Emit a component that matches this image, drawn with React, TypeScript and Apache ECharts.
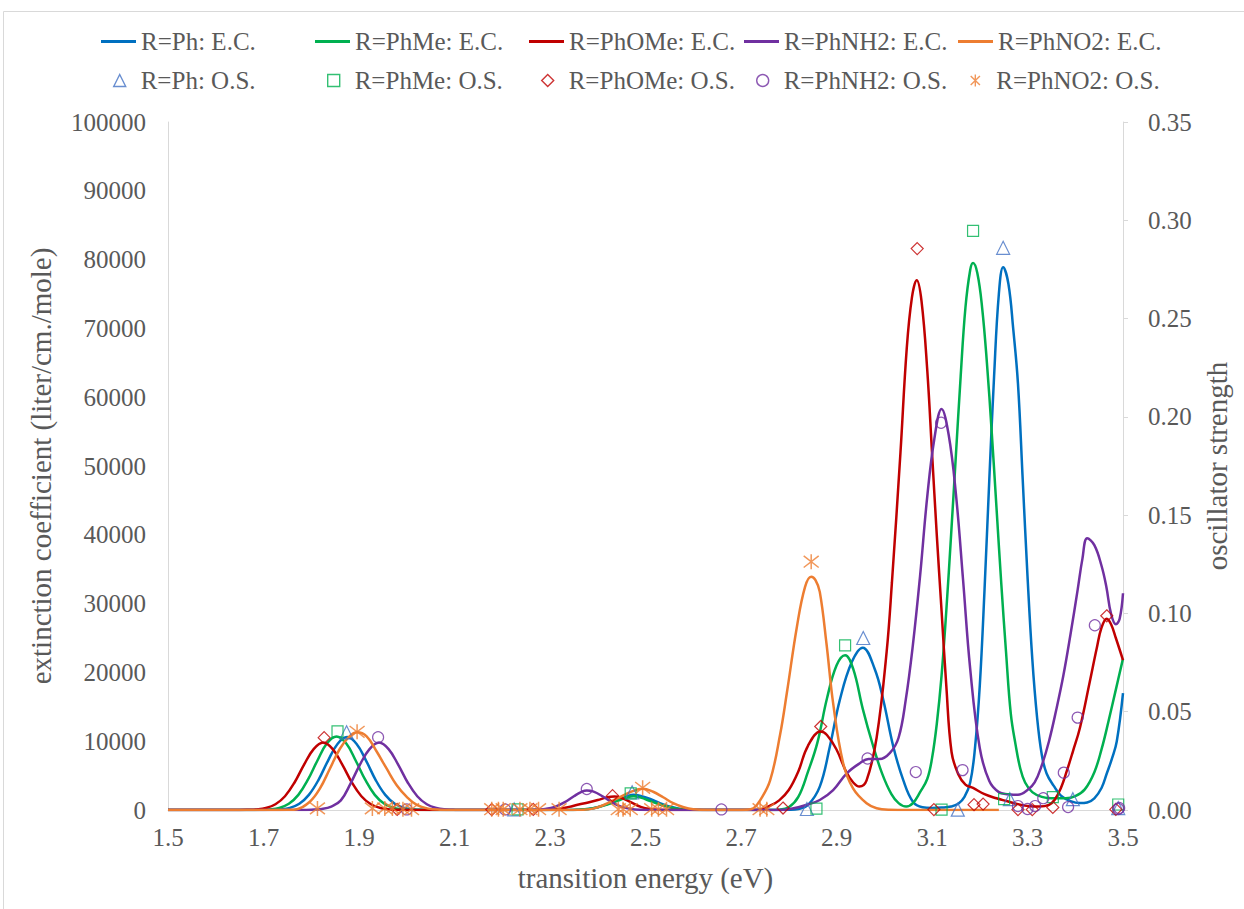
import React, { useEffect, useRef } from "react";
import * as echarts from "echarts";

const FONT = "'Liberation Serif', 'Times New Roman', serif";
const TEXT = "#595959";
const AXIS = "#D9D9D9";

const lineNames = ["R=Ph: E.C.", "R=PhMe: E.C.", "R=PhOMe: E.C.", "R=PhNH2: E.C.", "R=PhNO2: E.C."];
const osNames = ["R=Ph: O.S.", "R=PhMe: O.S.", "R=PhOMe: O.S.", "R=PhNH2: O.S.", "R=PhNO2: O.S."];
const lineColors = ["#0070C0", "#00B050", "#C00000", "#7030A0", "#ED7D31"];
const markerColors = ["#4472C4", "#00B050", "#C00000", "#7030A0", "#ED7D31"];

// extinction coefficient spectra [eV, liter/cm/mole]
const ecPh: number[][] = [
  [1.5, 0], [1.7, 0], [1.715, 20], [1.735, 80], [1.755, 300], [1.775, 900], [1.795, 2200], [1.815, 4350], [1.835, 7150], [1.855, 9600], [1.875, 10600], [1.895, 9600], [1.915, 7150], [1.935, 4350], [1.955, 2200], [1.975, 900], [1.995, 300], [2.015, 80], [2.035, 20], [2.06, 0],
  [2.34, 0], [2.36, 50], [2.38, 150], [2.4, 400], [2.42, 850], [2.44, 1400], [2.46, 1950], [2.475, 2200], [2.49, 2050], [2.51, 1600], [2.53, 1000], [2.55, 500], [2.57, 200], [2.59, 60], [2.62, 0],
  [2.78, 0], [2.8, 20], [2.82, 150], [2.84, 700], [2.865, 3400], [2.886, 9200], [2.907, 16000], [2.932, 21500], [2.955, 23600], [2.98, 20500], [2.998, 16000], [3.019, 9200], [3.04, 4300], [3.06, 1200], [3.08, 400], [3.1, 300], [3.12, 350], [3.14, 500], [3.155, 900], [3.168, 1900],
  [3.18, 4000], [3.19, 9000], [3.2, 18000], [3.21, 32000], [3.22, 48000], [3.23, 63000], [3.24, 75000], [3.249, 78900], [3.26, 76500], [3.27, 70000], [3.28, 62000], [3.29, 48000], [3.3, 34000], [3.31, 22000], [3.32, 13500], [3.33, 8000], [3.34, 5300], [3.355, 3500], [3.37, 2100], [3.39, 1300], [3.41, 1000], [3.425, 1100], [3.44, 1700], [3.455, 3200], [3.466, 5300], [3.477, 7500], [3.487, 10000], [3.5, 17000],
];
const ecPhMe: number[][] = [
  [1.5, 0], [1.68, 0], [1.693, 20], [1.713, 85], [1.733, 300], [1.753, 900], [1.773, 2200], [1.793, 4400], [1.813, 7200], [1.833, 9700], [1.853, 10700], [1.873, 9700], [1.893, 7200], [1.913, 4400], [1.933, 2200], [1.953, 900], [1.973, 300], [1.993, 85], [2.013, 20], [2.04, 0],
  [2.34, 0], [2.36, 50], [2.38, 150], [2.4, 400], [2.42, 800], [2.44, 1300], [2.46, 1800], [2.475, 2000], [2.49, 1800], [2.51, 1300], [2.53, 800], [2.55, 400], [2.57, 150], [2.59, 50], [2.62, 0],
  [2.76, 0], [2.78, 50], [2.8, 400], [2.82, 1900], [2.84, 5500], [2.86, 9800], [2.88, 16200], [2.9, 21000], [2.918, 22500], [2.935, 20500], [2.955, 14700], [2.975, 9700], [2.995, 5400], [3.015, 2300], [3.03, 1000], [3.046, 500], [3.06, 1000], [3.075, 2600],
  [3.09, 4500], [3.1, 7500], [3.11, 12500], [3.12, 19500], [3.13, 29000], [3.14, 40000], [3.15, 51500], [3.16, 63000], [3.17, 73000], [3.18, 78500], [3.186, 79500], [3.195, 78000], [3.205, 73000], [3.215, 65000], [3.225, 55000], [3.235, 44000], [3.245, 33000], [3.255, 23000], [3.265, 14000], [3.275, 9500], [3.285, 6000], [3.295, 4000],
  [3.31, 2600], [3.33, 1900], [3.35, 1700], [3.38, 1700], [3.4, 2000], [3.42, 3000], [3.44, 5500], [3.455, 8800], [3.47, 13000], [3.485, 17500], [3.5, 22000],
];
const ecPhOMe: number[][] = [
  [1.5, 0], [1.65, 0], [1.665, 20], [1.685, 80], [1.705, 280], [1.725, 830], [1.745, 2000], [1.765, 4000], [1.785, 6600], [1.805, 8850], [1.825, 9800], [1.845, 8850], [1.865, 6600], [1.885, 4000], [1.905, 2000], [1.925, 830], [1.945, 280], [1.965, 80], [1.985, 20], [2.01, 0],
  [2.28, 0], [2.3, 30], [2.32, 150], [2.34, 450], [2.36, 800], [2.38, 1100], [2.4, 1450], [2.42, 1850], [2.435, 1950], [2.45, 1750], [2.47, 1100], [2.49, 450], [2.51, 130], [2.53, 30], [2.56, 0],
  [2.72, 0], [2.74, 50], [2.76, 600], [2.78, 1400], [2.8, 2900], [2.82, 5600], [2.84, 9300], [2.867, 11400], [2.88, 10900], [2.9, 8800], [2.92, 5600], [2.935, 4000], [2.948, 3400], [2.963, 4300], [2.984, 10500], [3.005, 23000], [3.016, 33000], [3.034, 52000], [3.047, 67000], [3.058, 74500], [3.068, 77000], [3.078, 74000], [3.09, 64000], [3.1, 52000], [3.11, 40000], [3.12, 29000], [3.13, 18000], [3.141, 8400], [3.155, 5200], [3.17, 3700], [3.186, 3200], [3.21, 2300], [3.235, 1700], [3.256, 1300], [3.28, 850], [3.305, 550], [3.325, 500], [3.345, 750], [3.357, 1500], [3.37, 3200], [3.382, 5600], [3.395, 8500], [3.41, 12000], [3.43, 18500], [3.445, 23500], [3.455, 26500], [3.466, 27800], [3.475, 27000], [3.485, 25000], [3.5, 21800],
];
const ecPhNH2: number[][] = [
  [1.5, 0], [1.78, 0], [1.8, 40], [1.822, 150], [1.842, 500], [1.862, 1400], [1.882, 3800], [1.902, 6600], [1.922, 8850], [1.942, 9800], [1.962, 8850], [1.982, 6600], [2.002, 4000], [2.022, 2000], [2.042, 830], [2.062, 280], [2.082, 77], [2.102, 18], [2.13, 0],
  [2.25, 0], [2.27, 30], [2.29, 150], [2.31, 450], [2.33, 1100], [2.35, 2000], [2.365, 2600], [2.377, 2850], [2.39, 2700], [2.41, 2000], [2.43, 1100], [2.45, 450], [2.47, 150], [2.49, 40], [2.52, 0],
  [2.78, 0], [2.81, 250], [2.84, 800], [2.865, 1450], [2.893, 2900], [2.921, 5300], [2.949, 6800], [2.967, 7400], [2.99, 7400], [3.012, 8300], [3.03, 10500], [3.045, 16000], [3.06, 24000], [3.075, 34000], [3.09, 45500], [3.105, 54000], [3.12, 58300], [3.135, 54500], [3.15, 46000], [3.165, 33500], [3.18, 20500], [3.2, 9000], [3.22, 4200], [3.24, 2600], [3.26, 2300], [3.28, 2200], [3.3, 2900], [3.315, 4000], [3.33, 6500], [3.345, 10000], [3.36, 14500], [3.375, 19500], [3.39, 25500], [3.405, 32000], [3.415, 36500], [3.425, 39500], [3.44, 38500], [3.455, 35500], [3.465, 32500], [3.475, 28500], [3.485, 27000], [3.493, 27800], [3.5, 31500],
];
const ecPhNO2: number[][] = [
  [1.5, 0], [1.73, 0], [1.75, 20], [1.77, 120], [1.797, 1200], [1.818, 3100], [1.839, 6000], [1.86, 8900], [1.88, 10700], [1.896, 11300], [1.916, 10700], [1.937, 8500], [1.958, 6000], [1.979, 3600], [2.0, 1900], [2.021, 750], [2.045, 200], [2.07, 40], [2.1, 0],
  [2.35, 0], [2.37, 20], [2.39, 200], [2.41, 650], [2.44, 1650], [2.468, 2600], [2.494, 3100], [2.516, 2650], [2.537, 1850], [2.558, 1000], [2.58, 400], [2.6, 100], [2.63, 0],
  [2.69, 0], [2.71, 30], [2.726, 250], [2.74, 1400], [2.761, 4300], [2.782, 11000], [2.796, 17000], [2.817, 26600], [2.834, 32400], [2.847, 33900], [2.856, 33400], [2.865, 31700], [2.879, 24200], [2.893, 15500], [2.914, 6800], [2.935, 3100], [2.963, 970], [2.984, 250], [3.01, 30], [3.05, 0], [3.24, 0],
];

// oscillator strengths [eV, f]
const osPh: number[][] = [[1.874, 0.0395], [2.225, 0.0003], [2.472, 0.009], [2.838, 0.0005], [2.956, 0.0875], [3.154, 0.0002], [3.249, 0.286], [3.263, 0.0055], [3.395, 0.0055], [3.49, 0.001]];
const osPhMe: number[][] = [[1.855, 0.04], [2.232, 0.0003], [2.469, 0.0085], [2.858, 0.0007], [2.918, 0.0837], [3.12, 0.0002], [3.186, 0.2946], [3.251, 0.0055], [3.353, 0.0066], [3.49, 0.0028]];
const osPhOMe: number[][] = [[1.827, 0.0368], [1.98, 0.0003], [2.178, 0.0002], [2.265, 0.0003], [2.431, 0.0073], [2.788, 0.001], [2.867, 0.0425], [3.069, 0.2856], [3.104, 0.0002], [3.188, 0.0027], [3.207, 0.003], [3.28, 0.0002], [3.31, 0.0002], [3.353, 0.0013], [3.466, 0.0988], [3.485, 0.0003]];
const osPhNH2: number[][] = [[1.94, 0.037], [2.0, 0.0003], [2.206, 0.0003], [2.377, 0.0107], [2.659, 0.0003], [2.965, 0.0262], [3.066, 0.0193], [3.119, 0.197], [3.164, 0.0203], [3.28, 0.002], [3.3, 0.0005], [3.316, 0.002], [3.333, 0.006], [3.376, 0.019], [3.385, 0.0015], [3.405, 0.047], [3.441, 0.094], [3.49, 0.0005], [3.492, 0.001]];
const osPhNO2: number[][] = [[1.813, 0.0008], [1.896, 0.0398], [1.928, 0.0008], [1.954, 0.0008], [1.97, 0.0008], [1.992, 0.0004], [2.01, 0.0004], [2.178, 0.0004], [2.192, 0.0004], [2.202, 0.0004], [2.237, 0.0004], [2.258, 0.0004], [2.276, 0.0004], [2.319, 0.0004], [2.443, 0.0004], [2.453, 0.0004], [2.468, 0.0004], [2.494, 0.0113], [2.513, 0.0004], [2.527, 0.0004], [2.544, 0.0004], [2.74, 0.0004], [2.754, 0.0004], [2.847, 0.1263]];

const ecData = [ecPh, ecPhMe, ecPhOMe, ecPhNH2, ecPhNO2];
const osData = [osPh, osPhMe, osPhOMe, osPhNH2, osPhNO2];

const ASTERISK = "path://M0,0L10,10M10,0L0,10M5,-1.5L5,11.5";
const osSymbols = ["triangle", "rect", "diamond", "circle", ASTERISK];
const osSizes = [13, 11, 12, 11, 15];

const legendLefts = [101, 315, 529, 744, 958];

export default function App() {
  const ref = useRef<HTMLDivElement>(null);
  useEffect(() => {
    const chart = echarts.init(ref.current!, null, { renderer: "svg" });
    const textStyle = { color: TEXT, fontFamily: FONT, fontSize: 25 };
    const legends: any[] = [];
    lineNames.forEach((n, i) => {
      legends.push({
        data: [{ name: n, icon: "rect", itemStyle: { color: lineColors[i] } }],
        left: legendLefts[i], top: 29, itemWidth: 35, itemHeight: 3, textStyle, padding: 0,
      });
    });
    osNames.forEach((n, i) => {
      legends.push({
        data: [{ name: n, icon: osSymbols[i], itemStyle: { color: "rgba(0,0,0,0)", borderColor: markerColors[i], borderWidth: 1.4 } }],
        left: legendLefts[i] + 12, top: 68, itemWidth: 12, itemHeight: 12,
        textStyle: { ...textStyle, padding: [0, 0, 0, 10] }, padding: 0,
      });
    });
    const series: any[] = [];
    ecData.forEach((d, i) => {
      series.push({
        name: lineNames[i], type: "line", data: d, yAxisIndex: 0, smooth: 0.4,
        showSymbol: false, symbol: "none", color: lineColors[i],
        lineStyle: { color: lineColors[i], width: 2.5 }, z: 2,
      });
    });
    osData.forEach((d, i) => {
      series.push({
        name: osNames[i], type: "scatter", data: d, yAxisIndex: 1,
        symbol: osSymbols[i], symbolSize: osSizes[i], color: markerColors[i],
        itemStyle: { color: "rgba(0,0,0,0)", borderColor: markerColors[i], borderWidth: i === 4 ? 1.5 : 1.2 }, z: 3,
      });
    });
    chart.setOption({
      animation: false,
      backgroundColor: "#ffffff",
      graphic: [{
        type: "rect", shape: { x: 3.5, y: 11.5, width: 1300, height: 950 },
        style: { fill: "none", stroke: AXIS, lineWidth: 1 }, silent: true, z: -1,
      }],
      legend: legends,
      grid: { left: 168, right: 121, top: 122, bottom: 99, containLabel: false },
      xAxis: {
        type: "value", min: 1.5, max: 3.5, interval: 0.2,
        axisLine: { show: true, onZero: false, lineStyle: { color: AXIS, width: 1 } },
        axisTick: { show: false }, splitLine: { show: false },
        axisLabel: { color: TEXT, fontFamily: FONT, fontSize: 25, margin: 15, formatter: (v: number) => v.toFixed(1) },
        name: "transition energy (eV)", nameLocation: "middle", nameGap: 53,
        nameTextStyle: { color: TEXT, fontFamily: FONT, fontSize: 29 },
      },
      yAxis: [
        {
          type: "value", min: 0, max: 100000, interval: 10000, position: "left",
          axisLine: { show: true, lineStyle: { color: AXIS, width: 1 } },
          axisTick: { show: false }, splitLine: { show: false },
          axisLabel: { color: TEXT, fontFamily: FONT, fontSize: 25, margin: 22, formatter: (v: number) => String(v) },
          name: "extinction coefficient (liter/cm./mole)", nameLocation: "middle", nameGap: 113, nameRotate: 90,
          nameTextStyle: { color: TEXT, fontFamily: FONT, fontSize: 29 },
        },
        {
          type: "value", min: 0, max: 0.35, interval: 0.05, position: "right",
          axisLine: { show: true, lineStyle: { color: AXIS, width: 1 } },
          axisTick: { show: true, inside: false, length: 5, lineStyle: { color: AXIS } }, splitLine: { show: false },
          axisLabel: { color: TEXT, fontFamily: FONT, fontSize: 25, margin: 25, formatter: (v: number) => v.toFixed(2) },
          name: "oscillator strength", nameLocation: "middle", nameGap: 79, nameRotate: 90,
          nameTextStyle: { color: TEXT, fontFamily: FONT, fontSize: 29 },
        },
      ],
      series,
    });
    return () => chart.dispose();
  }, []);
  return <div ref={ref} style={{ position: "fixed", left: 0, top: 0, width: 1244, height: 909, background: "#fff" }} />;
}
